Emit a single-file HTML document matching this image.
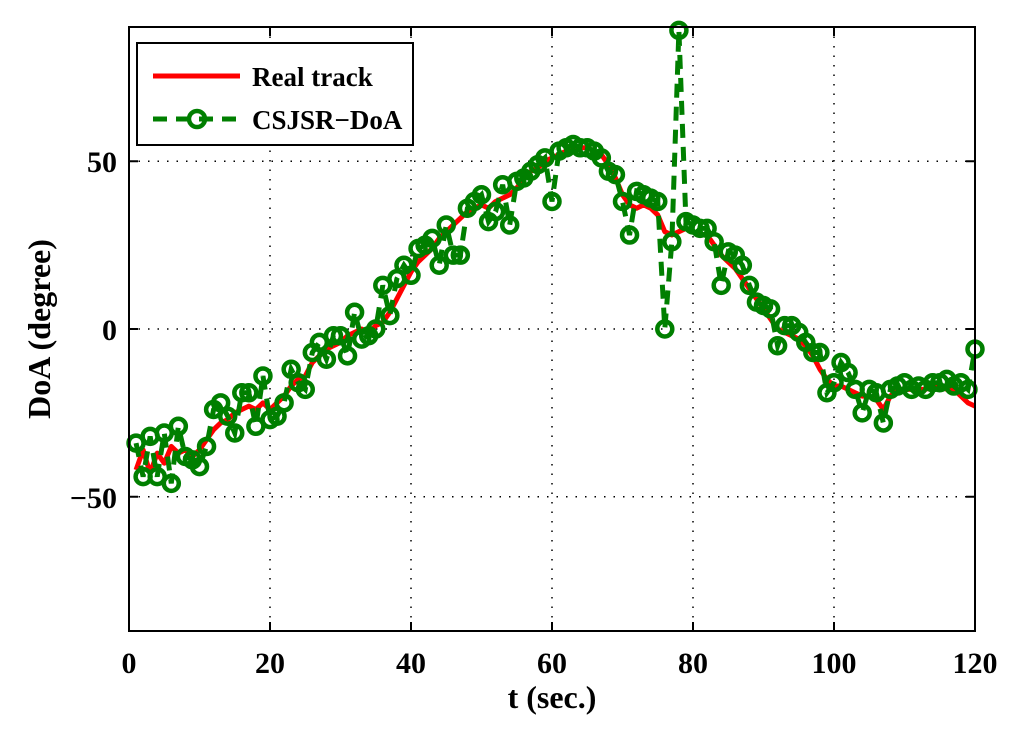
<!DOCTYPE html>
<html><head><meta charset="utf-8"><style>
body{margin:0;background:#fff}
svg text{font-family:"Liberation Serif",serif;font-weight:bold}
</style></head><body>
<svg id="chart" width="1024" height="728" xmlns="http://www.w3.org/2000/svg">
<rect width="1024" height="728" fill="#fff"/>
<g id="grid"></g>
<g id="ticks"></g>
<path id="realLine" fill="none" stroke="#ff0000" stroke-width="5" stroke-linejoin="round"/>
<path id="estLine" fill="none" stroke="#007f00" stroke-width="5" stroke-dasharray="14,9"/>
<g id="markers"></g>
<rect x="129" y="27" width="846" height="604" fill="none" stroke="#000" stroke-width="2"/>
<text x="552" y="708" font-size="32" text-anchor="middle">t (sec.)</text>
<text transform="translate(50,329) rotate(-90)" font-size="32" text-anchor="middle">DoA (degree)</text>
<g>
<rect x="137" y="43" width="276" height="102" fill="#fff" stroke="#000" stroke-width="2"/>
<line x1="153" y1="76" x2="240" y2="76" stroke="#ff0000" stroke-width="5"/>
<text x="252" y="86" font-size="27">Real track</text>
<line x1="153" y1="119" x2="240" y2="119" stroke="#007f00" stroke-width="5" stroke-dasharray="14,9"/>
<circle cx="197" cy="119" r="8" fill="none" stroke="#007f00" stroke-width="4.5"/>
<text x="252" y="129" font-size="27">CSJSR−DoA</text>
</g>
</svg>
<script>
const xTicks=[0,20,40,60,80,100,120];
const yTicks=[-50,0,50];
const times=[];for(let t=1;t<=120;t++)times.push(t);
const realVals=[-42,-36,-43,-37,-40,-35,-37,-36,-38,-36,-33,-30,-28,-27,-25,-24,-23,-24,-22,-24,-22,-20,-17,-15,-14,-10,-8,-6,-5,-4,-2,-1,0,-1,1,2,5,9,13,17,20,22,24,27,29,31,33,35,36,37,36,38,39,40,42,45,47,48,50,51,52,53,54,54,54,53,52,49,45,40,37,36,37,36,34,29,28,29,30,29,28,28,25,22,20,18,15,12,9,6,3,0,-1,-2,-3,-5,-8,-12,-15,-17,-17,-18,-19,-20,-20,-21,-24,-20,-18,-18,-18,-18,-18,-17,-17,-18,-18,-20,-22,-23];
const estVals=[-34,-44,-32,-44,-31,-46,-29,-38,-39,-41,-35,-24,-22,-26,-31,-19,-19,-29,-14,-27,-26,-22,-12,-16,-18,-7,-4,-9,-2,-2,-8,5,-3,-2,0,13,4,15,19,16,24,25,27,19,31,22,22,36,38,40,32,35,43,31,44,45,47,49,51,38,53,54,55,54,54,53,51,47,46,38,28,41,40,39,38,0,26,89,32,31,30,30,26,13,23,22,19,13,8,7,6,-5,1,1,-1,-4,-7,-7,-19,-16,-10,-13,-18,-25,-18,-19,-28,-18,-17,-16,-18,-17,-18,-16,-16,-15,-17,-16,-18,-6];
const X=v=>129+(v-0)*(846/120);
const Y=v=>329-v*(604/180);
const NS="http://www.w3.org/2000/svg";
const grid=document.getElementById('grid'),ticks=document.getElementById('ticks');
function mk(tag,attrs,parent){const e=document.createElementNS(NS,tag);for(const k in attrs)e.setAttribute(k,attrs[k]);parent.appendChild(e);return e;}
xTicks.forEach(v=>{
 if(v>0&&v<120){const g=mk('line',{x1:X(v),x2:X(v),y1:27,y2:631,stroke:'#000','stroke-width':1.5,'stroke-dasharray':'1.5,8'},grid);
 
 }
 const tk=mk('path',{d:'M'+X(v)+',631v-9M'+X(v)+',27v9',stroke:'#000','stroke-width':2},ticks);
 
 
 const t=mk('text',{x:X(v),y:673,'font-size':30,'text-anchor':'middle'},ticks);t.textContent=v;
 
 
});
yTicks.forEach(v=>{
 const g=mk('line',{x1:129,x2:975,y1:Y(v),y2:Y(v),stroke:'#000','stroke-width':1.5,'stroke-dasharray':'1.5,8'},grid);
 
 
 const tk=mk('path',{d:'M129,'+Y(v)+'h9M975,'+Y(v)+'h-9',stroke:'#000','stroke-width':2},ticks);
 
 
 const t=mk('text',{x:117,y:Y(v)+11,'font-size':30,'text-anchor':'end'},ticks);t.textContent=String(v).replace('-','−');
 
 
});
document.getElementById('realLine').setAttribute('d',times.map((t,i)=>(i?'L':'M')+X(t)+','+Y(realVals[i])).join(''));
document.getElementById('estLine').setAttribute('d',times.map((t,i)=>(i?'L':'M')+X(t)+','+Y(estVals[i])).join(''));
const mg=document.getElementById('markers');
times.forEach((t,i)=>{const c=mk('circle',{cx:X(t),cy:Y(estVals[i]),r:7.5,fill:'none',stroke:'#007f00','stroke-width':4.5},mg);
 
 });
</script>
</body></html>
